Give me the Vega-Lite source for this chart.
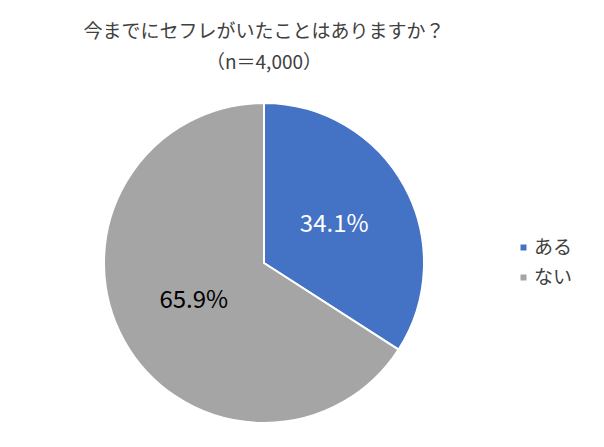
{
  "$schema": "https://vega.github.io/schema/vega-lite/v6.json",
  "autosize": "none",
  "width": 320,
  "height": 320,
  "padding": {"left": 104, "top": 103, "right": 180, "bottom": 24},
  "background": "white",
  "title": {
    "text": ["今までにセフレがいたことはありますか？", "（n＝4,000）"],
    "font": "Noto Sans CJK JP",
    "fontSize": 19,
    "fontWeight": "normal",
    "color": "#404040",
    "lineHeight": 31,
    "anchor": "middle",
    "offset": 26
  },
  "data": {
    "values": [
      {"answer": "ある", "share": 34.1, "label": "34.1%", "idx": 1},
      {"answer": "ない", "share": 65.9, "label": "65.9%", "idx": 2}
    ]
  },
  "encoding": {
    "theta": {"field": "share", "type": "quantitative", "stack": true},
    "order": {"field": "idx", "type": "quantitative"},
    "color": {
      "field": "answer",
      "type": "nominal",
      "scale": {"domain": ["ある", "ない"], "range": ["#4472C4", "#A5A5A5"]},
      "legend": {
        "title": null,
        "orient": "none",
        "legendX": 410,
        "legendY": 135,
        "symbolType": "square",
        "symbolSize": 36,
        "symbolStrokeWidth": 0,
        "labelFont": "Noto Sans CJK JP",
        "labelFontSize": 19,
        "labelColor": "#404040",
        "rowPadding": 10,
        "labelOffset": 1
      }
    }
  },
  "layer": [
    {
      "mark": {"type": "arc", "stroke": "white", "strokeWidth": 2}
    },
    {
      "mark": {"type": "text", "radius": 80, "font": "Noto Sans CJK JP", "fontSize": 24},
      "encoding": {
        "text": {"field": "label"},
        "color": {
          "field": "answer",
          "type": "nominal",
          "scale": {"domain": ["ある", "ない"], "range": ["#FFFFFF", "#000000"]},
          "legend": null
        }
      }
    }
  ],
  "resolve": {"scale": {"color": "independent"}},
  "config": {"view": {"stroke": null}}
}
